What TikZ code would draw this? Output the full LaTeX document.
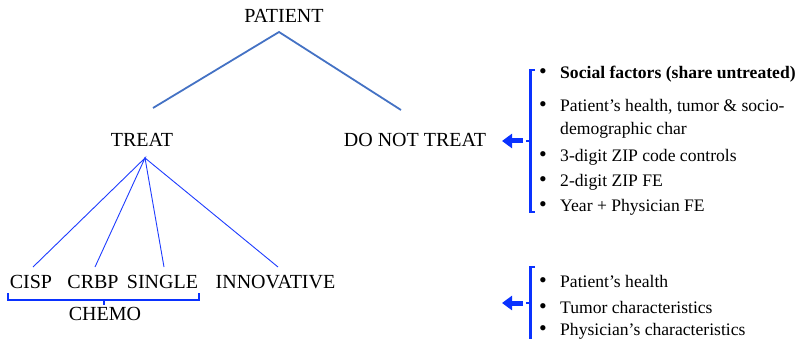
\documentclass[tikz,border=0pt]{standalone}
\usepackage{fontspec}
\setmainfont{Liberation Serif}
\usetikzlibrary{arrows.meta}
\definecolor{treeblue}{RGB}{68,114,196}
\definecolor{linkblue}{RGB}{30,60,255}
\definecolor{brblue}{RGB}{10,50,255}
\begin{document}
\begin{tikzpicture}[x=1pt,y=-1pt,
  lab/.style={font=\fontsize{20}{23}\selectfont, inner sep=0pt, anchor=base},
  item/.style={font=\fontsize{17.6}{21}\selectfont, inner sep=0pt, anchor=base west},
  bul/.style={font=\fontsize{22}{21}\selectfont, inner sep=0pt, anchor=base, text depth=0pt},
  tree/.style={draw=treeblue, line width=1.8pt},
  link/.style={draw=linkblue, line width=0.9pt},
  brk/.style={draw=brblue, line width=2.6pt},
  fatarrow/.style={draw=brblue, line width=5pt, -{Triangle[length=10pt,width=14pt]}}]
\useasboundingbox (0,0) rectangle (802,339);
% top level
\node[lab] (patient) at (284,23) {PATIENT};
\node[lab] (treat) at (142,147) {TREAT};
\node[lab] (dnt) at (415,147) {DO NOT TREAT};
\coordinate (pa) at (279,32);
\coordinate (tl) at (153,108);
\coordinate (tr) at (401,110);
\draw[tree] (tl) -- (pa) -- (tr);
% bottom level
\node[lab] (cisp) at (31,288) {CISP};
\node[lab] (crbp) at (93,288) {CRBP};
\node[lab] (single) at (162.5,288) {SINGLE};
\node[lab] (innov) at (275.5,288) {INNOVATIVE};
\node[lab] (chemo) at (105,320) {CHEMO};
\coordinate (ta) at (145,158);
\coordinate (e1) at (33,267);
\coordinate (e2) at (95,267);
\coordinate (e3) at (164,267);
\coordinate (e4) at (278,267);
\draw[link] (e1) -- (ta) -- (e2);
\draw[link] (e3) -- (ta) -- (e4);
% chemo brace
\coordinate (bl) at (8,293);
\coordinate (br) at (199,293);
\draw[draw=brblue, line width=1.3pt] (bl) -- (8,300) -- (199,300) -- (br);
\draw[draw=brblue, line width=2pt] (104,300) -- (104,305);
% upper list
\draw[brk] (535,70) -- (530.5,70) -- (530.5,212) -- (535,212);
\draw[brk] (530.5,141) -- (526,141);
\coordinate (a1s) at (523,141);
\coordinate (a1e) at (502,141);
\draw[fatarrow] (a1s) -- (a1e);
\node[bul] (b1) at (543,79) {\textbullet};
\node[bul] (b2) at (543,112) {\textbullet};
\node[bul] (b3) at (543,161) {\textbullet};
\node[bul] (b4) at (543,186) {\textbullet};
\node[bul] (b5) at (543,211) {\textbullet};
\node[item] (i1) at (560,79) {\bfseries Social factors (share untreated)};
\node[item] (i2) at (560,112) {Patient’s health, tumor \& socio-};
\node[item] (i2b) at (560,135) {demographic char};
\node[item] (i3) at (560,161) {3-digit ZIP code controls};
\node[item] (i4) at (560,186) {2-digit ZIP FE};
\node[item] (i5) at (560,211) {Year + Physician FE};
% lower list
\draw[brk] (535,267) -- (530.5,267) -- (530.5,345);
\draw[brk] (530.5,303) -- (526,303);
\coordinate (a2s) at (523,303);
\coordinate (a2e) at (502,303);
\draw[fatarrow] (a2s) -- (a2e);
\node[bul] (c1) at (543,287) {\textbullet};
\node[bul] (c2) at (543,313) {\textbullet};
\node[bul] (c3) at (543,335) {\textbullet};
\node[item] (j1) at (560,287) {Patient’s health};
\node[item] (j2) at (560,313) {Tumor characteristics};
\node[item] (j3) at (560,335) {Physician’s characteristics};
\end{tikzpicture}
\end{document}
